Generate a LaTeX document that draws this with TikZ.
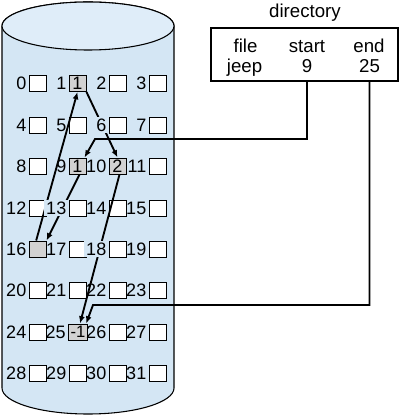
\documentclass[tikz,border=0pt]{standalone}
\usepackage{fontspec}
\setmainfont{Liberation Sans}
\usetikzlibrary{positioning, arrows.meta}

\definecolor{diskblue}{RGB}{212,230,244}
\definecolor{disktop}{RGB}{223,237,249}
\definecolor{blkgray}{RGB}{210,210,210}

\tikzset{
    blk/.style={draw, fill=white, line width=0.7pt, minimum width=12.75pt, minimum height=12pt, inner sep=0pt},
    used/.style={blk, fill=blkgray},
    num/.style={inner sep=1.5pt},
    gap/.style={num, fill=diskblue},
    dirtext/.style={anchor=base, inner sep=0pt, font=\fontsize{14}{16}\selectfont},
    link/.style={-{Latex[length=5.5pt,width=4.5pt]}, line width=1.4pt},
}

\begin{document}
\begin{tikzpicture}[x=0.75pt, y=-0.75pt, font=\fontsize{13.5}{15}\selectfont]
    \useasboundingbox (0,0) rectangle (401,416);

    % the disk
    \draw [fill=diskblue, line width=0.8pt] (2,26) -- (2,388) arc (180:0:86 and 26) -- (174,26) arc (0:-180:86 and 24) -- cycle;
    \draw [fill=disktop, line width=0.8pt] (88,26) ellipse (86 and 24);

    % blocks
    \node[blk] (b0) at (37.5,83.5) {};
    \node[used] (b1) at (77.5,83.5) {1};
    \node[blk] (b2) at (117.5,83.5) {};
    \node[blk] (b3) at (157.5,83.5) {};
    \node[blk] (b4) at (37.5,125) {};
    \node[blk] (b5) at (77.5,125) {};
    \node[blk] (b6) at (117.5,125) {};
    \node[blk] (b7) at (157.5,125) {};
    \node[blk] (b8) at (37.5,166) {};
    \node[used] (b9) at (77.5,166) {1};
    \node[used] (b10) at (117.5,166) {2};
    \node[blk] (b11) at (157.5,166) {};
    \node[blk] (b12) at (37.5,208) {};
    \node[blk] (b13) at (77.5,208) {};
    \node[blk] (b14) at (117.5,208) {};
    \node[blk] (b15) at (157.5,208) {};
    \node[used] (b16) at (37.5,249) {};
    \node[blk] (b17) at (77.5,249) {};
    \node[blk] (b18) at (117.5,249) {};
    \node[blk] (b19) at (157.5,249) {};
    \node[blk] (b20) at (37.5,290.5) {};
    \node[blk] (b21) at (77.5,290.5) {};
    \node[blk] (b22) at (117.5,290.5) {};
    \node[blk] (b23) at (157.5,290.5) {};
    \node[blk] (b24) at (37.5,332) {};
    \node[used, minimum width=14.5pt, font=\fontsize{12.5}{14}\selectfont] (b25) at (78,332) {-1};
    \node[blk] (b26) at (117.5,332) {};
    \node[blk] (b27) at (157.5,332) {};
    \node[blk] (b28) at (37.5,373.5) {};
    \node[blk] (b29) at (77.5,373.5) {};
    \node[blk] (b30) at (117.5,373.5) {};
    \node[blk] (b31) at (157.5,373.5) {};

    % directory
    \node[draw, line width=1.6pt, minimum width=140.25pt, minimum height=39.75pt, inner sep=0pt] (dir) at (304.5,54.5) {};
    \node[dirtext] (dirtitle) at (305,18) {directory};
    \node[dirtext] (hfile) at (245.5,53) {file};
    \node[dirtext] (hstart) at (307,53) {start};
    \node[dirtext] (hend) at (369,53) {end};
    \node[dirtext] (vfile) at (244.5,73) {jeep};
    \node[dirtext] (vstart) at (307,73) {9};
    \node[dirtext] (vend) at (369.5,73) {25};

    % chain of blocks
    \coordinate (s1) at (95,139);
    \coordinate (e1) at (93,305);
    \draw [link] (dir.south -| vstart) |- (s1) -- ([xshift=-1.5pt]b9.north east);
    \draw [link] (dir.south -| vend) |- (e1) -- ([xshift=-1.5pt]b25.north east);
    \draw [link] ([xshift=1.5pt]b9.south) -- (b16.north east);
    \draw [link] ([xshift=-1pt]b16.north) -- (b1.south);
    \draw [link] (b1.south east) -- (b10.north);
    \draw [link] ([xshift=1.5pt]b10.south) -- ([xshift=1.5pt]b25.north);

    % block numbers
    \node[num, left=0pt of b0] (n0) {0};
    \node[num, left=0pt of b1] (n1) {1};
    \node[num, left=0pt of b2] (n2) {2};
    \node[num, left=0pt of b3] (n3) {3};
    \node[num, left=0pt of b4] (n4) {4};
    \node[num, left=0pt of b5] (n5) {5};
    \node[gap, left=0pt of b6] (n6) {6};
    \node[num, left=0pt of b7] (n7) {7};
    \node[num, left=0pt of b8] (n8) {8};
    \node[num, left=0pt of b9] (n9) {9};
    \node[num, left=0pt of b10] (n10) {10};
    \node[num, left=0pt of b11] (n11) {11};
    \node[num, left=0pt of b12] (n12) {12};
    \node[gap, left=0pt of b13] (n13) {13};
    \node[num, left=0pt of b14] (n14) {14};
    \node[num, left=0pt of b15] (n15) {15};
    \node[num, left=0pt of b16] (n16) {16};
    \node[num, left=0pt of b17] (n17) {17};
    \node[gap, left=0pt of b18] (n18) {18};
    \node[num, left=0pt of b19] (n19) {19};
    \node[num, left=0pt of b20] (n20) {20};
    \node[num, left=0pt of b21] (n21) {21};
    \node[num, left=0pt of b22] (n22) {22};
    \node[num, left=0pt of b23] (n23) {23};
    \node[num, left=0pt of b24] (n24) {24};
    \node[num, left=0pt of b25] (n25) {25};
    \node[num, left=0pt of b26] (n26) {26};
    \node[num, left=0pt of b27] (n27) {27};
    \node[num, left=0pt of b28] (n28) {28};
    \node[num, left=0pt of b29] (n29) {29};
    \node[num, left=0pt of b30] (n30) {30};
    \node[num, left=0pt of b31] (n31) {31};
\end{tikzpicture}
\end{document}
